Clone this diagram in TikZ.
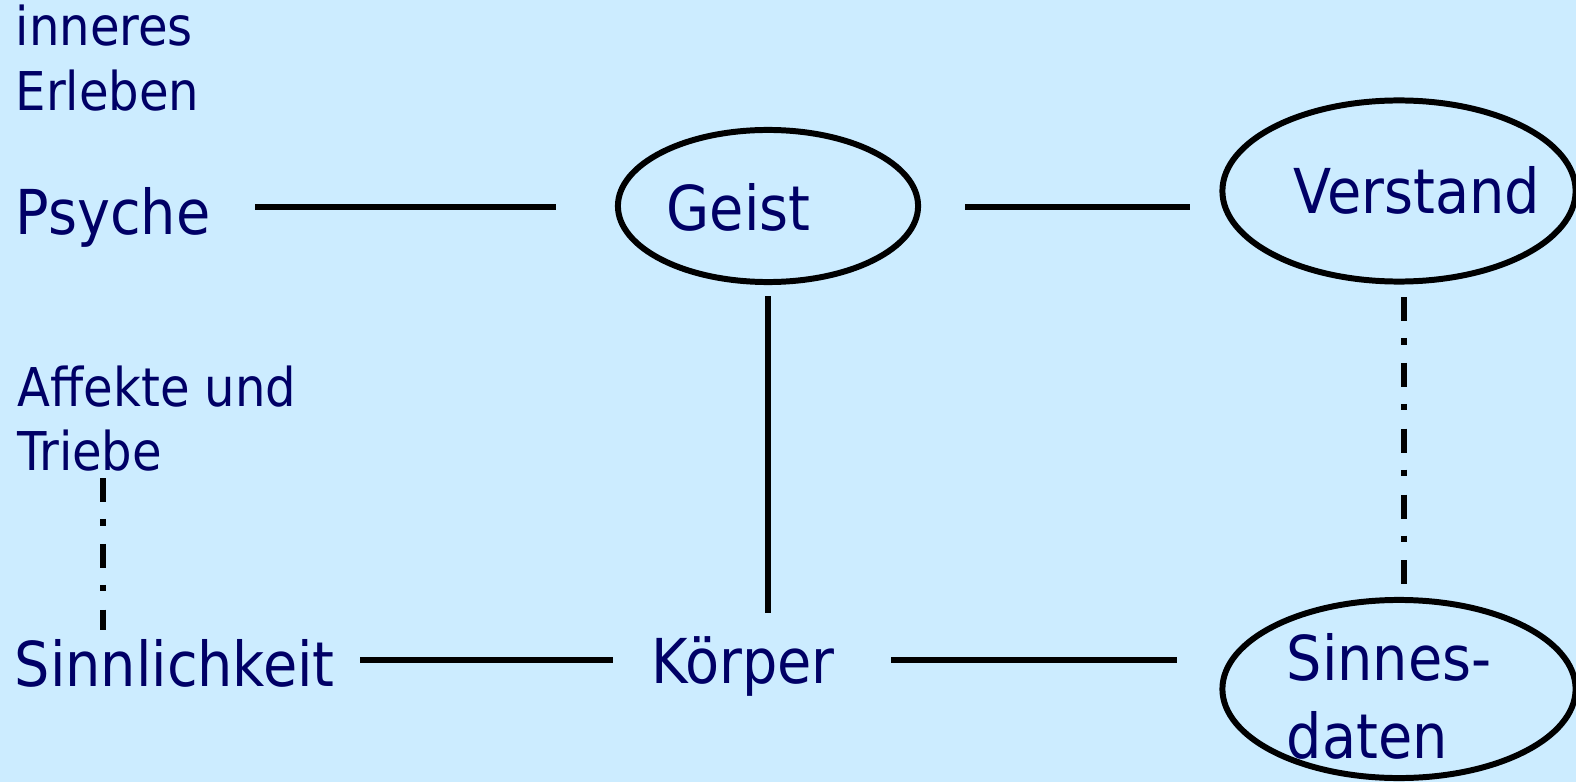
\documentclass[tikz,border=0pt]{standalone}
\usepackage{fontspec}
\setmainfont{DejaVu Sans Condensed}
\usetikzlibrary{shapes.geometric}
\definecolor{bgc}{HTML}{CCECFF}
\definecolor{txt}{HTML}{000066}
\newcommand{\twoln}[2]{\vtop{\hbox{#1}\hbox{#2}}}
\tikzset{
  lbl/.style={anchor=base west, inner sep=0pt, text=txt, font=\fontsize{17.6}{22.2}\selectfont},
  small/.style={lbl, font=\fontsize{15.2}{18.2}\selectfont},
  oval/.style={draw, ellipse, line width=1.7pt, inner sep=0pt},
  conn/.style={line width=1.7pt},
  dashdot/.style={line width=1.7pt, dash pattern=on 6.83pt off 4.8pt on 1.9pt off 5.2pt}
}
\begin{document}
\begin{tikzpicture}[x=0.01cm, y=-0.01cm]
\fill[bgc] (0,0) rectangle (1576,782);
\useasboundingbox (0,0) rectangle (1576,782);

% ellipses
\node[oval, minimum width=3.00cm, minimum height=1.52cm] (geistE) at (768,206) {};
\node[oval, minimum width=3.53cm, minimum height=1.81cm] (verstandE) at (1399,191) {};
\node[oval, minimum width=3.53cm, minimum height=1.78cm] (sinnesE) at (1399,689) {};

% texts
\node[small] (erleben) at (15,46) {\twoln{inneres}{Erleben}};
\node[lbl] (psyche) at (15,235) {Psyche};
\node[lbl] (geist) at (666,230) {Geist};
\node[lbl] (verstand) at (1293,213) {Verstand};
\node[small] (affekte) at (17,406) {\twoln{Affekte und}{Triebe}};
\node[lbl] (sinnl) at (14,686) {Sinnlichkeit};
\node[lbl] (koerper) at (651,683) {Körper};
\node[lbl] (sinnes) at (1286,680) {\twoln{Sinnes-}{daten}};

% connector end points
\coordinate (psR) at (255,207);
\coordinate (geL) at (556,207);
\coordinate (geR) at (965,207);
\coordinate (veL) at (1190,207);
\coordinate (geB) at (768,296);
\coordinate (koT) at (768,613);
\coordinate (siR) at (360,660);
\coordinate (koL) at (613,660);
\coordinate (koR) at (891,660);
\coordinate (snL) at (1177,660);
\coordinate (veB) at (1404,297);
\coordinate (snT) at (1404,585);
\coordinate (afB) at (103,478);
\coordinate (siT) at (103,630);

\draw[conn] (psR) -- (geL);
\draw[conn] (geR) -- (veL);
\draw[conn] (geB) -- (koT);
\draw[conn] (siR) -- (koL);
\draw[conn] (koR) -- (snL);
\draw[dashdot] (veB) -- (snT);
\draw[dashdot] (afB) -- (siT);
\end{tikzpicture}
\end{document}
